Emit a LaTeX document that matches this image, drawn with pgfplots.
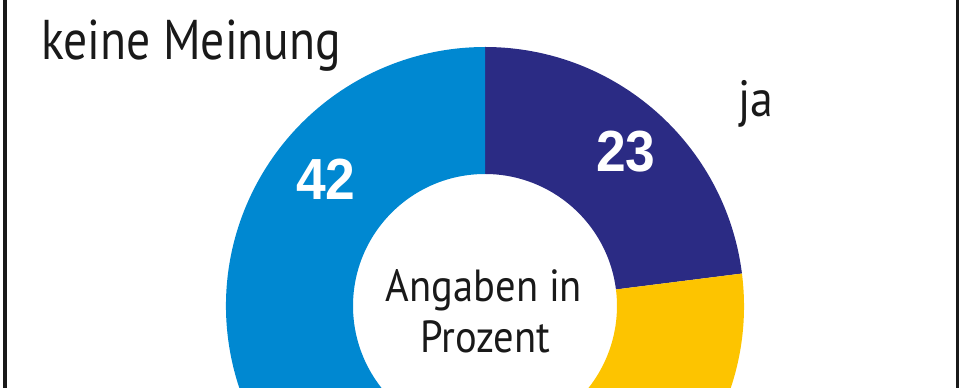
\documentclass[border=0pt]{standalone}
\usepackage{fontspec}
\setmainfont{PT Sans}[FakeStretch=0.85]
\newfontfamily\midfont{PT Sans}[FakeStretch=0.9]
\newfontfamily\numfont{Liberation Sans}[FakeStretch=0.92]
\usepackage{pgfplots}
\usepackage{pgfplotstable}
\pgfplotsset{compat=1.18}
\usetikzlibrary{calc}
\definecolor{cja}{RGB}{43,43,132}
\definecolor{cnein}{RGB}{253,196,0}
\definecolor{ckm}{RGB}{0,136,209}
\pgfplotstableread{
label value
ja 23
nein 35
keine 42
}\donutdata
\begin{document}
\begin{tikzpicture}
\pgfplotstablegetelem{0}{value}\of\donutdata \let\vja\pgfplotsretval
\pgfplotstablegetelem{1}{value}\of\donutdata \let\vnein\pgfplotsretval
\pgfplotstablegetelem{2}{value}\of\donutdata \let\vkm\pgfplotsretval
\pgfmathsetmacro{\aA}{90}
\pgfmathsetmacro{\aB}{90-3.6*\vja}
\pgfmathsetmacro{\aC}{\aB-3.6*\vnein}
\pgfmathsetmacro{\aD}{\aC-3.6*\vkm}
\def\Ro{259pt}
\def\Ri{132pt}
\begin{axis}[name=ax, x=1pt, y=1pt, xmin=0, xmax=970, ymin=0, ymax=388,
  hide axis, clip=true]
  \coordinate (c) at (axis cs:485,82);
  % ja
  \fill[cja] ($(c)+(\aA:\Ro)$) arc[start angle=\aA, end angle=\aB, radius=\Ro]
     -- ($(c)+(\aB:\Ri)$) arc[start angle=\aB, end angle=\aA, radius=\Ri] -- cycle;
  % nein
  \fill[cnein] ($(c)+(\aB:\Ro)$) arc[start angle=\aB, end angle=\aC, radius=\Ro]
     -- ($(c)+(\aC:\Ri)$) arc[start angle=\aC, end angle=\aB, radius=\Ri] -- cycle;
  % keine Meinung
  \fill[ckm] ($(c)+(\aC:\Ro)$) arc[start angle=\aC, end angle=\aD, radius=\Ro]
     -- ($(c)+(\aD:\Ri)$) arc[start angle=\aD, end angle=\aC, radius=\Ri] -- cycle;
  % frame
  \draw[line width=3.5pt, black!90] (axis cs:5,-5) -- (axis cs:5,393);
  \draw[line width=3pt, black!90] (axis cs:957.5,-5) -- (axis cs:957.5,393);
  % labels
  \node[anchor=base west, inner sep=0pt, font=\fontsize{56}{60}\selectfont, text=black!90] at (axis cs:41,328) {keine Meinung};
  \node[anchor=base west, inner sep=0pt, font=\midfont\fontsize{51}{56}\selectfont, text=black!90] at (axis cs:738,271) {ja};
  \node[anchor=base, inner sep=0pt, font=\midfont\fontsize{45}{50}\selectfont, text=black!90] at (axis cs:484,86) {Angaben in};
  \node[anchor=base, inner sep=0pt, font=\midfont\fontsize{45}{50}\selectfont, text=black!90] at (axis cs:485,35) {Prozent};
  \node[anchor=base, inner sep=0pt, font=\numfont\bfseries\fontsize{58}{60}\selectfont, text=white] at (axis cs:326,188) {\vkm};
  \node[anchor=base, inner sep=0pt, font=\numfont\bfseries\fontsize{58}{60}\selectfont, text=white] at (axis cs:626,216) {\vja};
\end{axis}
\pgfresetboundingbox
\useasboundingbox (ax.south west) rectangle (ax.north east);
\end{tikzpicture}
\end{document}
